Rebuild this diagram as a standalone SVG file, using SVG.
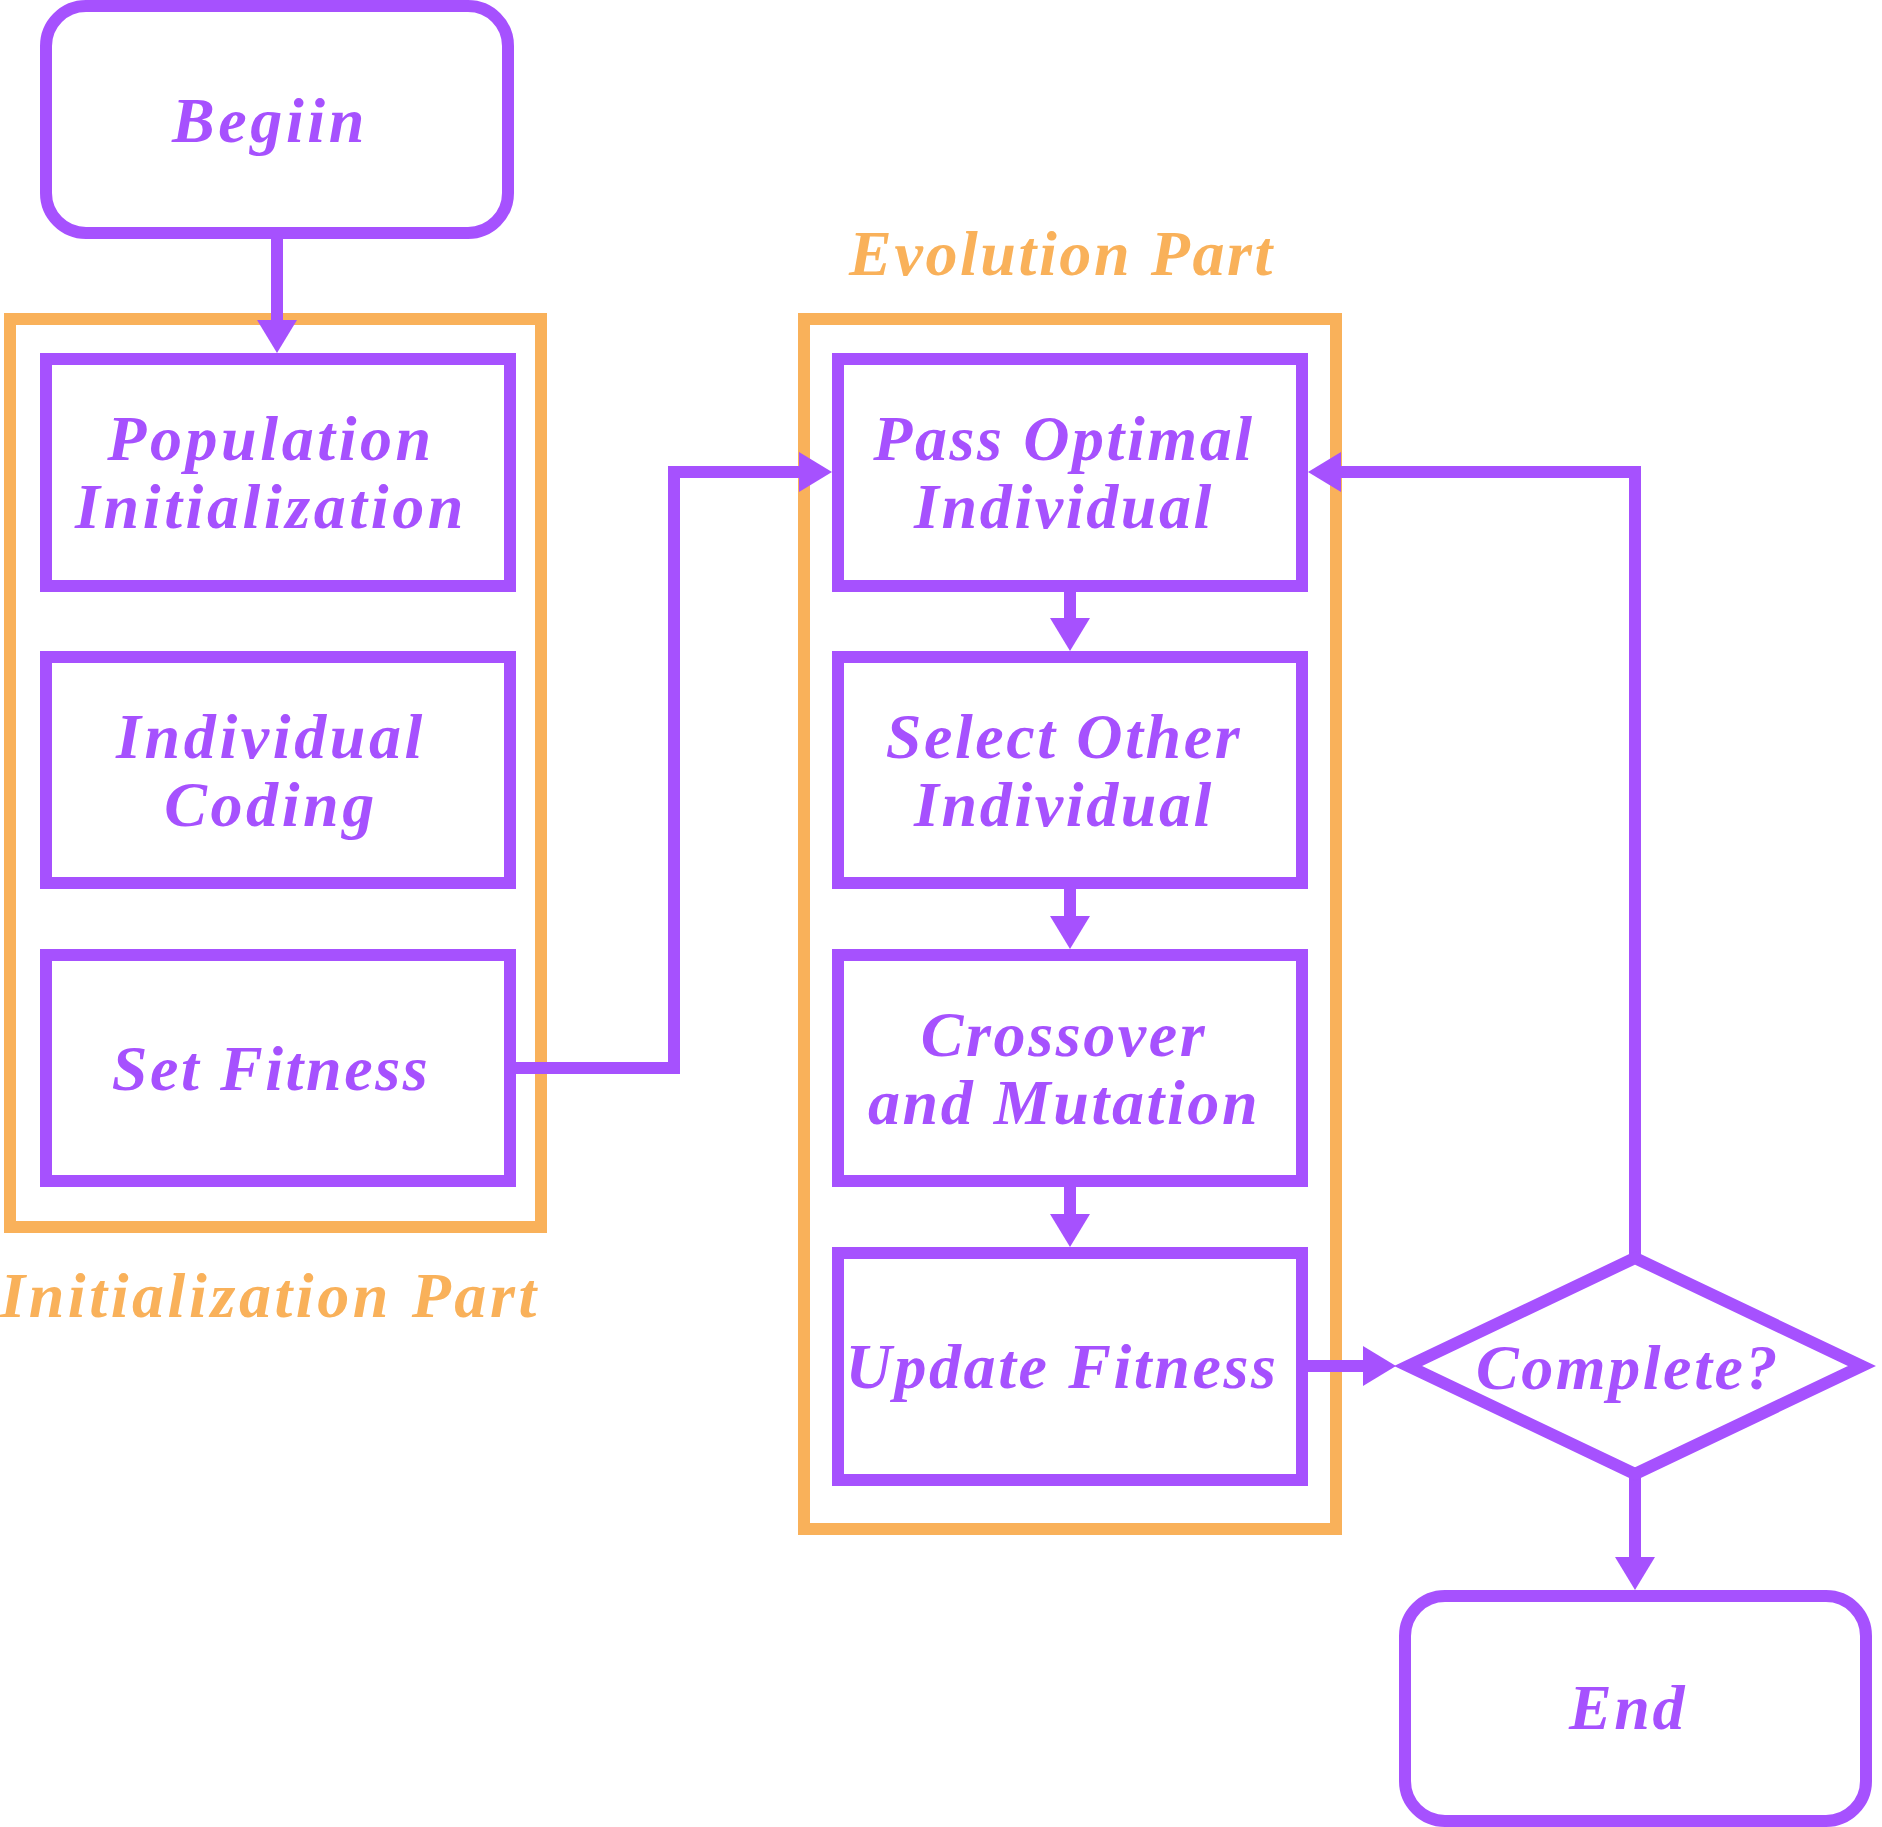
<svg xmlns="http://www.w3.org/2000/svg" width="1882" height="1827" viewBox="0 0 1882 1827">
<style>
.box{fill:#fff;stroke:#A651FE;stroke-width:12}
.grp{fill:none;stroke:#F9B15A;stroke-width:12}
.con{fill:none;stroke:#A651FE;stroke-width:12;stroke-linejoin:miter}
.t{font-family:"Liberation Serif","Times New Roman",serif;font-weight:bold;font-style:italic;font-size:64px;letter-spacing:2.6px;text-anchor:middle;fill:#A651FE}
.w{letter-spacing:3.6px}
.o{fill:#F9B15A}
</style>
<defs>
<marker id="ah" viewBox="0 -20 33 40" markerWidth="33" markerHeight="40" refX="0" refY="0" orient="auto" markerUnits="userSpaceOnUse">
<path d="M0,-20 L33,0 L0,20 z" fill="#A651FE"/>
</marker>
</defs>
<rect width="1882" height="1827" fill="#fff"/>
<g id="init-part">
<rect class="grp" x="10" y="319" width="531" height="908"/>
<text class="t w o" x="270" y="1317">Initialization Part</text>
</g>
<g id="evolution-part">
<rect class="grp" x="804" y="319" width="532" height="1210"/>
<text class="t o" x="1062" y="275">Evolution Part</text>
</g>
<g id="connectors">
<path class="con" d="M277,233 V320" marker-end="url(#ah)"/>
<path class="con" d="M510,1068 H674 V472 H799" marker-end="url(#ah)"/>
<path class="con" d="M1070,586 V618" marker-end="url(#ah)"/>
<path class="con" d="M1070,883 V916" marker-end="url(#ah)"/>
<path class="con" d="M1070,1181 V1214" marker-end="url(#ah)"/>
<path class="con" d="M1302,1366 H1363" marker-end="url(#ah)"/>
<path class="con" d="M1635,1256 V472 H1341" marker-end="url(#ah)"/>
<path class="con" d="M1635,1476 V1557" marker-end="url(#ah)"/>
</g>
<g id="begin">
<rect class="box" x="46" y="6" width="462" height="227" rx="40"/>
<text class="t w" x="270" y="142">Begiin</text>
</g>
<g id="population-init">
<rect class="box" x="46" y="359" width="464" height="227"/>
<text class="t w" x="271" y="460">Population</text>
<text class="t w" x="271" y="528">Initialization</text>
</g>
<g id="individual-coding">
<rect class="box" x="46" y="657" width="464" height="226"/>
<text class="t w" x="271" y="758">Individual</text>
<text class="t w" x="271" y="826">Coding</text>
</g>
<g id="set-fitness">
<rect class="box" x="46" y="955" width="464" height="226"/>
<text class="t" x="271" y="1090">Set Fitness</text>
</g>
<g id="pass-optimal">
<rect class="box" x="838" y="359" width="464" height="227"/>
<text class="t" x="1064" y="460">Pass Optimal</text>
<text class="t" x="1064" y="528">Individual</text>
</g>
<g id="select-other">
<rect class="box" x="838" y="657" width="464" height="226"/>
<text class="t" x="1064" y="758">Select Other</text>
<text class="t" x="1064" y="826">Individual</text>
</g>
<g id="crossover-mutation">
<rect class="box" x="838" y="955" width="464" height="226"/>
<text class="t" x="1064" y="1056">Crossover</text>
<text class="t" x="1064" y="1124">and Mutation</text>
</g>
<g id="update-fitness">
<rect class="box" x="838" y="1253" width="464" height="227"/>
<text class="t" x="1062" y="1388">Update Fitness</text>
</g>
<g id="complete">
<polygon class="box" points="1635,1258 1862,1366 1635,1474 1408,1366"/>
<text class="t" x="1628" y="1389">Complete?</text>
</g>
<g id="end">
<rect class="box" x="1405" y="1596" width="461" height="225" rx="40"/>
<text class="t" x="1628" y="1729">End</text>
</g>
</svg>
